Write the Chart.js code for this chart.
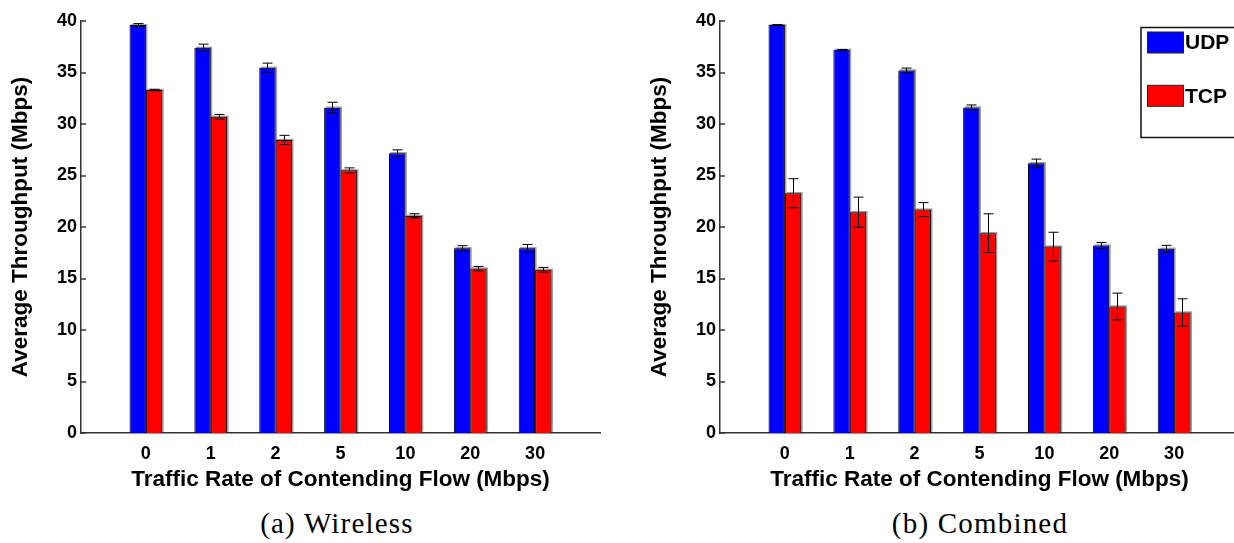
<!DOCTYPE html>
<html>
<head>
<meta charset="utf-8">
<script src="https://cdn.jsdelivr.net/npm/chart.js@4/dist/chart.umd.min.js"></script>
<style>
  html, body { margin: 0; padding: 0; background: #fff; overflow: hidden; }
  body { width: 1234px; height: 543px; position: relative; }
  .panel { position: absolute; top: 0; height: 500px; overflow: hidden; }
  .caption {
    position: absolute; top: 509px; width: 620px; text-align: center;
    font-family: "Liberation Serif", "Times New Roman", serif;
    font-size: 29px; line-height: 29px; letter-spacing: 1.2px; color: #000;
  }
</style>
</head>
<body>
<div class="panel" style="left:0px;width:620px"><canvas id="wirelessChart" width="620" height="500"></canvas></div>
<!-- el panel derecho se recorta en el borde de la figura -->
<div class="panel" style="left:639px;width:595px"><canvas id="combinedChart" width="620" height="500"></canvas></div>
<div class="caption" style="left:27px">(a) Wireless</div>
<div class="caption" style="left:670px">(b) Combined</div>

<script>
// Tasa de tráfico del flujo concurrente (Mbps)
const rates = ["0", "1", "2", "5", "10", "20", "30"];
const yTicks = [0, 5, 10, 15, 20, 25, 30, 35, 40];

// (a) Wireless
const udpWireless = [39.6, 37.4, 35.46, 31.58, 27.16, 17.94, 17.94];
const udpWirelessErr = [0.15, 0.35, 0.45, 0.53, 0.33, 0.25, 0.36];
const tcpWireless = [33.3, 30.7, 28.45, 25.5, 21.08, 15.96, 15.84];
const tcpWirelessErr = [0.07, 0.23, 0.45, 0.24, 0.21, 0.21, 0.23];

// (b) Combined
const udpCombined = [39.6, 37.2, 35.2, 31.6, 26.19, 18.2, 17.88];
const udpCombinedErr = [0.05, 0.03, 0.23, 0.25, 0.4, 0.29, 0.34];
const tcpCombined = [23.28, 21.44, 21.69, 19.4, 18.1, 12.28, 11.7];
const tcpCombinedErr = [1.41, 1.46, 0.68, 1.88, 1.39, 1.3, 1.33];

const FONT = "'Liberation Sans', Arial, sans-serif";

// Sombra gris de las barras
const barShadow = {
  id: "barShadow",
  beforeDatasetsDraw(chart) {
    const ctx = chart.ctx;
    ctx.save();
    ctx.fillStyle = "#a0a0a0";
    chart.data.datasets.forEach((ds, i) => {
      chart.getDatasetMeta(i).data.forEach((bar) => {
        const w = bar.width;
        ctx.fillRect(bar.x - w / 2 + 1.5, bar.y - 1.2, w, bar.base - bar.y);
      });
    });
    ctx.restore();
  },
};

// Barras de error y marcas del eje Y hacia dentro
const errorBars = {
  id: "errorBars",
  afterDatasetsDraw(chart) {
    const ctx = chart.ctx;
    const y = chart.scales.y;
    const area = chart.chartArea;
    ctx.save();
    ctx.strokeStyle = "#000";
    ctx.lineWidth = 1;
    chart.data.datasets.forEach((ds, i) => {
      chart.getDatasetMeta(i).data.forEach((bar, j) => {
        const v = ds.data[j].y;
        const e = ds.errors[j];
        const top = y.getPixelForValue(v + e);
        const bot = y.getPixelForValue(v - e);
        const x = Math.round(bar.x) + 0.5;
        ctx.beginPath();
        ctx.moveTo(x, top);
        ctx.lineTo(x, bot);
        ctx.moveTo(x - 5, top);
        ctx.lineTo(x + 5, top);
        ctx.moveTo(x - 5, bot);
        ctx.lineTo(x + 5, bot);
        ctx.stroke();
      });
    });
    ctx.strokeStyle = "#333";
    ctx.lineWidth = 1.5;
    yTicks.forEach((t) => {
      const py = Math.round(y.getPixelForValue(t));
      ctx.beginPath();
      ctx.moveTo(area.left, py);
      ctx.lineTo(area.left + 5, py);
      ctx.stroke();
    });
    ctx.restore();
  },
};

// Leyenda con recuadro
const boxLegend = {
  id: "boxLegend",
  afterDraw(chart) {
    const ctx = chart.ctx;
    ctx.save();
    ctx.strokeStyle = "#111";
    ctx.lineWidth = 1.5;
    ctx.fillStyle = "#fff";
    ctx.fillRect(502, 27.5, 108, 110);
    ctx.strokeRect(502, 27.5, 108, 110);
    ctx.font = "bold 21px " + FONT;
    ctx.textBaseline = "middle";
    chart.data.datasets.forEach((ds, i) => {
      const top = 32 + i * 53.3;
      ctx.fillStyle = ds.backgroundColor;
      ctx.fillRect(508.5, top, 36, 21);
      ctx.lineWidth = 1;
      ctx.strokeStyle = "#222";
      ctx.strokeRect(508.5, top, 36, 21);
      ctx.fillStyle = "#000";
      ctx.fillText(ds.label, 546, top + 11.5);
    });
    ctx.restore();
  },
};

function makeChart(id, udp, udpErr, tcp, tcpErr, withLegend) {
  const ctx = document.getElementById(id).getContext("2d");
  const plugins = [barShadow, errorBars];
  if (withLegend) plugins.push(boxLegend);
  return new Chart(ctx, {
    type: "bar",
    data: {
      datasets: [
        {
          label: "UDP",
          data: udp.map((v, i) => ({ x: i + 1, y: v })),
          errors: udpErr,
          backgroundColor: "#0000ff",
          borderColor: "#000",
          borderWidth: 1,
        },
        {
          label: "TCP",
          data: tcp.map((v, i) => ({ x: i + 1, y: v })),
          errors: tcpErr,
          backgroundColor: "#ff0000",
          borderColor: "#000",
          borderWidth: 1,
        },
      ],
    },
    options: {
      responsive: false,
      animation: false,
      devicePixelRatio: 1,
      categoryPercentage: 0.505,
      barPercentage: 1.0,
      layout: { padding: { left: 0, right: 20, top: 21, bottom: 0 } },
      plugins: { legend: { display: false }, tooltip: { enabled: false } },
      scales: {
        x: {
          type: "linear",
          offset: false,
          min: 0,
          max: rates.length + 1,
          grid: { display: false, drawTicks: false, offset: false },
          border: { display: true, color: "#333", width: 1.5 },
          ticks: {
            stepSize: 1,
            autoSkip: false,
            maxRotation: 0,
            padding: 10,
            color: "#000",
            font: { family: FONT, size: 18, weight: "bold" },
            callback: (v) => rates[v - 1] || "",
          },
          title: {
            display: true,
            text: "Traffic Rate of Contending Flow (Mbps)",
            color: "#000",
            font: { family: FONT, size: 22.5, weight: "bold" },
            padding: { top: 0, bottom: 6.5 },
          },
          afterFit: (s) => { s.height = 67; },
        },
        y: {
          min: 0,
          max: 40,
          grid: { display: false, drawTicks: false },
          border: { display: true, color: "#333", width: 1.5 },
          ticks: {
            stepSize: 5,
            padding: 4,
            color: "#000",
            font: { family: FONT, size: 18, weight: "bold" },
          },
          title: {
            display: true,
            text: "Average Throughput (Mbps)",
            color: "#000",
            font: { family: FONT, size: 22.5, weight: "bold" },
            padding: { top: 7, bottom: 0 },
          },
          afterFit: (s) => { s.width = 81; },
        },
      },
    },
    plugins: plugins,
  });
}

makeChart("wirelessChart", udpWireless, udpWirelessErr, tcpWireless, tcpWirelessErr, false);
makeChart("combinedChart", udpCombined, udpCombinedErr, tcpCombined, tcpCombinedErr, true);
</script>
</body>
</html>
